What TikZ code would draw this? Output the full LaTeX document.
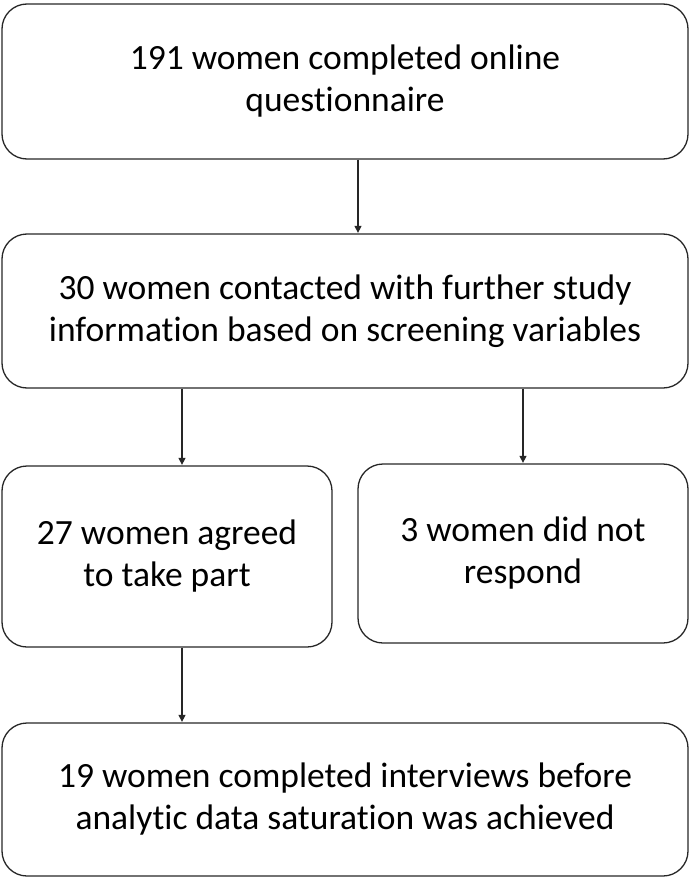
\documentclass[tikz,border=0pt]{standalone}
\usepackage{fontspec}
\setmainfont{Carlito}[Ligatures={NoCommon}]
\usetikzlibrary{arrows.meta}
\tikzset{
  box/.style={draw=black!85, line width=1.3pt, rounded corners=25pt, align=center,
    font=\fontsize{35.5}{42}\selectfont, inner sep=0pt},
  arr/.style={draw=black!85, line width=1.3pt, -{Triangle[length=7pt,width=7pt]}, shorten >=0.5pt}
}
\begin{document}
\begin{tikzpicture}[x=1pt,y=-1pt]
\useasboundingbox (0,0) rectangle (693,880);
\node[box, minimum width=686pt, minimum height=155pt] (b1) at (345,81.5)
  {191 women completed online\\questionnaire};
\node[box, minimum width=686pt, minimum height=154pt] (b2) at (345,311)
  {30 women contacted with further study\\information based on screening variables};
\node[box, minimum width=330pt, minimum height=181pt] (b3) at (167,556.5)
  {27 women agreed\\to take part};
\node[box, minimum width=330pt, minimum height=179pt] (b4) at (523,553.5)
  {3 women did not\\respond};
\node[box, minimum width=686pt, minimum height=153pt] (b5) at (345,799.5)
  {19 women completed interviews before\\analytic data saturation was achieved};
\draw[arr] ([xshift=13pt]b1.south) -- ([xshift=13pt]b2.north);
\draw[arr] ([xshift=15pt]b3.north |- b2.south) -- ([xshift=15pt]b3.north);
\draw[arr] (b4.north |- b2.south) -- (b4.north);
\draw[arr] ([xshift=15pt]b3.south) -- ([xshift=15pt]b3.south |- b5.north);
\end{tikzpicture}
\end{document}
